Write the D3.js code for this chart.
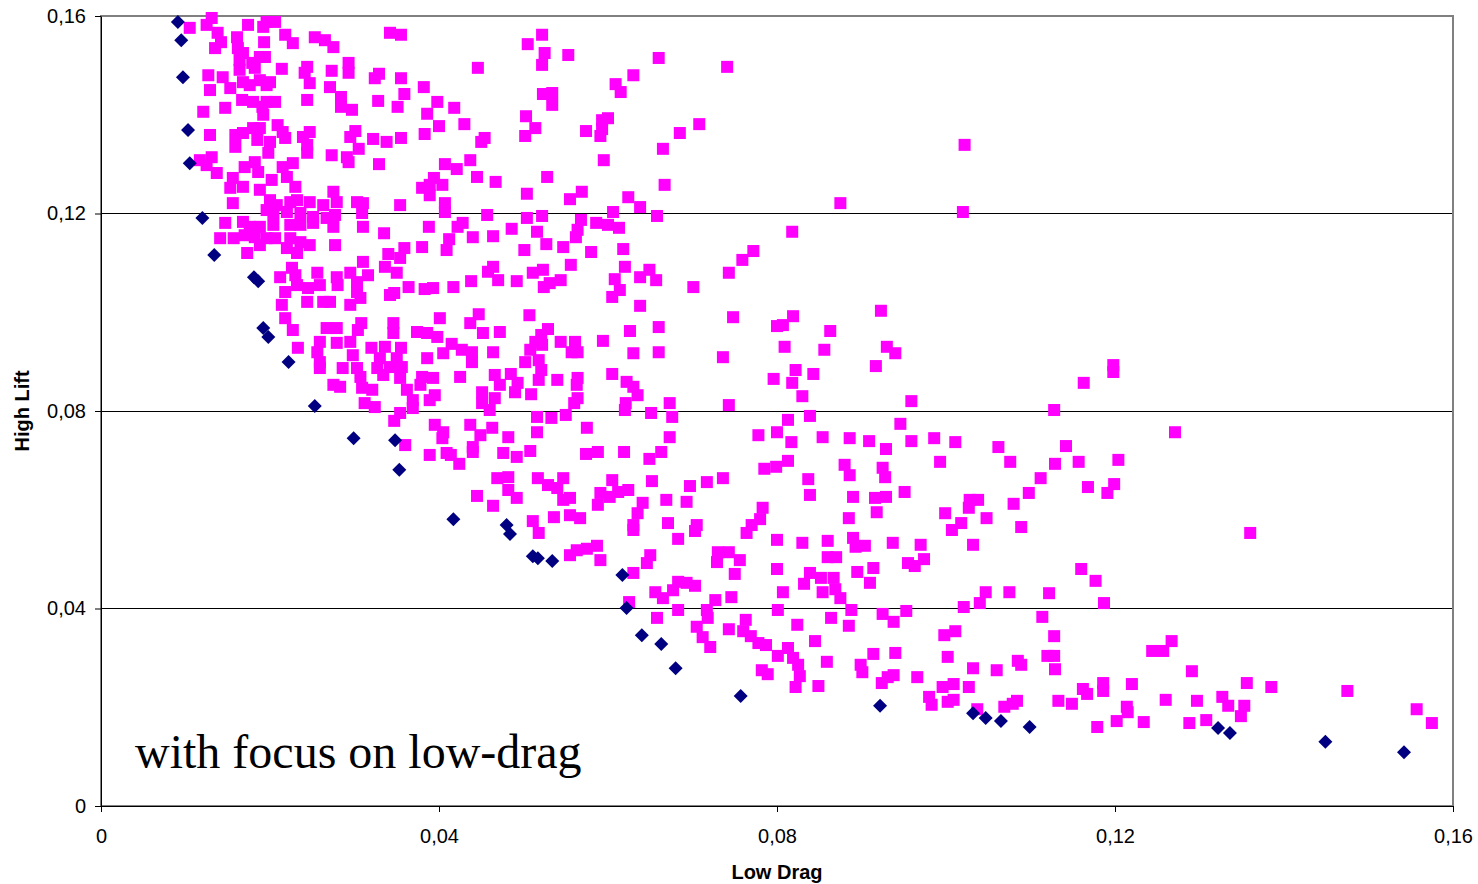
<!DOCTYPE html>
<html>
<head>
<meta charset="utf-8">
<script src="https://cdn.jsdelivr.net/npm/d3@7"></script>
<style>
    body { margin: 0; background: #fff; }
    .tick text { font-family: "Liberation Sans", Arial, sans-serif; font-size: 20px; fill: #000; }
</style>
</head>
<body>
<div class="container"></div>
<script>
const xTicks = [0, 0.04, 0.08, 0.12, 0.16],
    yTicks = [0, 0.04, 0.08, 0.12, 0.16],
    gridTicks = [0.04, 0.08, 0.12];

// non-dominated designs, [drag, lift]
const paretoFront = [
    [0.0091,0.1588],[0.0095,0.1551],[0.0097,0.1476],[0.0103,0.1369],[0.0105,0.1302],[0.0120,0.1191],[0.0134,0.1116],
    [0.0181,0.1071],[0.0186,0.1063],[0.0192,0.0968],[0.0198,0.0950],[0.0222,0.0899],[0.0253,0.0810],[0.0299,0.0745],
    [0.0348,0.0741],[0.0353,0.0681],[0.0417,0.0581],[0.0480,0.0569],[0.0484,0.0551],[0.0511,0.0506],[0.0517,0.0502],
    [0.0534,0.0496],[0.0617,0.0468],[0.0622,0.0401],[0.0640,0.0346],[0.0663,0.0328],[0.0680,0.0279],[0.0757,0.0223],
    [0.0922,0.0203],[0.1032,0.0188],[0.1047,0.0178],[0.1065,0.0172],[0.1099,0.0160],[0.1322,0.0158],[0.1336,0.0148],
    [0.1449,0.0130],[0.1542,0.0109]
];

// all other evaluated designs, [drag, lift]
const designs = [
    [0.0131,0.1596],[0.0105,0.1576],[0.0125,0.1582],[0.0138,0.1566],[0.0142,0.1547],[0.0135,0.1535],[0.0161,0.1557],[0.0174,0.1582],[0.0196,0.1588],[0.0206,0.1588],[0.0192,0.1578],[0.0193,0.1547],[0.0218,0.1562],[0.0227,0.1545],[0.0253,0.1557],[0.0265,0.1551],[0.0275,0.1537],[0.0162,0.1535],[0.0168,0.1525],[0.0164,0.1511],[0.0188,0.1517],[0.0194,0.1517],[0.0179,0.1505],[0.0164,0.1491],[0.0182,0.1495],[0.0214,0.1493],[0.0244,0.1497],[0.0241,0.1485],[0.0273,0.1489],[0.0127,0.1480],[0.0144,0.1476],[0.0129,0.1450],[0.0153,0.1454],[0.0168,0.1466],[0.0176,0.1460],[0.0188,0.1470],[0.0196,0.1460],[0.0200,0.1466],[0.0247,0.1464],[0.0271,0.1456],[0.0167,0.1430],[0.0180,0.1426],[0.0196,0.1426],[0.0206,0.1426],[0.0244,0.1430],[0.0121,0.1406],[0.0147,0.1414],[0.0191,0.1416],[0.0192,0.1400],[0.0129,0.1359],[0.0159,0.1359],[0.0168,0.1363],[0.0180,0.1373],[0.0188,0.1373],[0.0209,0.1379],[0.0215,0.1365],[0.0159,0.1335],[0.0185,0.1349],[0.0200,0.1345],[0.0218,0.1353],[0.0239,0.1355],[0.0244,0.1339],[0.0247,0.1365],[0.0198,0.1323],[0.0273,0.1318],[0.0244,0.1323],[0.0117,0.1308],[0.0131,0.1314],[0.0125,0.1298],[0.0137,0.1282],[0.0170,0.1294],[0.0182,0.1304],[0.0186,0.1284],[0.0215,0.1294],[0.0227,0.1302],[0.0220,0.1274],[0.0202,0.1268],[0.0156,0.1272],[0.0153,0.1252],[0.0168,0.1254],[0.0188,0.1248],[0.0230,0.1254],[0.0275,0.1244],
    [0.0156,0.1221],[0.0200,0.1227],[0.0208,0.1217],[0.0224,0.1223],[0.0232,0.1227],[0.0247,0.1223],[0.0263,0.1217],[0.0196,0.1207],[0.0204,0.1201],[0.0220,0.1203],[0.0236,0.1201],[0.0251,0.1193],[0.0267,0.1191],[0.0147,0.1181],[0.0168,0.1183],[0.0176,0.1173],[0.0188,0.1173],[0.0204,0.1177],[0.0224,0.1177],[0.0236,0.1177],[0.0251,0.1181],[0.0141,0.1150],[0.0157,0.1150],[0.0170,0.1156],[0.0182,0.1152],[0.0196,0.1150],[0.0206,0.1150],[0.0224,0.1150],[0.0236,0.1142],[0.0247,0.1136],[0.0173,0.1120],[0.0188,0.1136],[0.0220,0.1130],[0.0232,0.1120],[0.0226,0.1090],[0.0212,0.1071],[0.0230,0.1075],[0.0256,0.1080],[0.0232,0.1055],[0.0218,0.1041],[0.0245,0.1049],[0.0259,0.1055],[0.0244,0.1021],[0.0263,0.1021],[0.0214,0.1015],[0.0218,0.0988],[0.0227,0.0964],[0.0267,0.0968],[0.0259,0.0940],[0.0233,0.0928],[0.0256,0.0919],[0.0259,0.0899],[0.0259,0.0887],
    [0.0342,0.1566],[0.0355,0.1562],[0.0293,0.1505],[0.0293,0.1485],[0.0329,0.1483],[0.0324,0.1474],[0.0355,0.1474],[0.0382,0.1456],[0.0446,0.1495],[0.0284,0.1436],[0.0284,0.1416],[0.0297,0.1410],[0.0328,0.1428],[0.0359,0.1442],[0.0351,0.1416],[0.0398,0.1426],[0.0386,0.1402],[0.0418,0.1414],[0.0400,0.1377],[0.0430,0.1381],[0.0301,0.1367],[0.0295,0.1355],[0.0322,0.1351],[0.0338,0.1345],[0.0355,0.1353],[0.0383,0.1361],[0.0450,0.1345],[0.0454,0.1353],[0.0305,0.1331],[0.0291,0.1314],[0.0293,0.1304],[0.0329,0.1300],[0.0407,0.1300],[0.0421,0.1290],[0.0437,0.1308],[0.0445,0.1274],[0.0467,0.1264],[0.0394,0.1272],[0.0380,0.1252],[0.0389,0.1258],[0.0404,0.1258],[0.0389,0.1237],
    [0.0279,0.1223],[0.0303,0.1223],[0.0310,0.1221],[0.0309,0.1201],[0.0354,0.1217],[0.0407,0.1221],[0.0407,0.1203],[0.0457,0.1197],[0.0277,0.1197],[0.0275,0.1173],[0.0310,0.1173],[0.0335,0.1160],[0.0388,0.1173],[0.0422,0.1173],[0.0428,0.1181],[0.0440,0.1152],[0.0464,0.1154],[0.0277,0.1136],[0.0412,0.1148],[0.0409,0.1126],[0.0380,0.1132],[0.0359,0.1130],[0.0340,0.1118],[0.0354,0.1110],[0.0310,0.1102],[0.0336,0.1092],[0.0350,0.1080],[0.0295,0.1080],[0.0316,0.1075],[0.0279,0.1071],[0.0303,0.1061],[0.0280,0.1055],[0.0464,0.1092],[0.0458,0.1082],[0.0470,0.1065],[0.0438,0.1063],[0.0417,0.1051],[0.0393,0.1049],[0.0383,0.1047],[0.0364,0.1051],[0.0347,0.1039],[0.0342,0.1035],[0.0303,0.1041],[0.0307,0.1029],[0.0295,0.1015],[0.0271,0.1021],[0.0401,0.0988],[0.0447,0.0996],[0.0437,0.0978],[0.0308,0.0978],[0.0346,0.0978],[0.0279,0.0968],[0.0304,0.0964],[0.0346,0.0958],[0.0374,0.0960],[0.0386,0.0958],[0.0398,0.0950],[0.0452,0.0958],[0.0472,0.0960],[0.0295,0.0940],[0.0279,0.0938],[0.0320,0.0928],[0.0336,0.0930],[0.0355,0.0928],[0.0415,0.0936],[0.0405,0.0917],[0.0427,0.0924],[0.0439,0.0919],[0.0464,0.0919],[0.0298,0.0913],[0.0386,0.0907],[0.0439,0.0899],[0.0330,0.0907],[0.0350,0.0907],[0.0342,0.0889],[0.0356,0.0889],[0.0327,0.0887],[0.0286,0.0887],[0.0303,0.0887],[0.0307,0.0869],[0.0334,0.0873],[0.0354,0.0867],[0.0380,0.0869],[0.0393,0.0867],[0.0425,0.0869],[0.0466,0.0873],
    [0.0275,0.0853],[0.0283,0.0849],[0.0309,0.0847],[0.0321,0.0843],[0.0312,0.0816],[0.0324,0.0808],[0.0362,0.0843],[0.0369,0.0822],[0.0369,0.0806],[0.0354,0.0796],[0.0347,0.0780],[0.0378,0.0853],[0.0395,0.0832],[0.0389,0.0822],[0.0451,0.0838],[0.0451,0.0816],[0.0466,0.0826],[0.0460,0.0802],[0.0472,0.0853],[0.0395,0.0772],[0.0405,0.0757],[0.0404,0.0745],[0.0437,0.0772],[0.0463,0.0766],[0.0449,0.0751],[0.0360,0.0731],[0.0389,0.0711],[0.0409,0.0715],[0.0414,0.0711],[0.0424,0.0693],[0.0440,0.0727],[0.0440,0.0717],[0.0476,0.0715],[0.0482,0.0747],[0.0469,0.0664],[0.0482,0.0666],[0.0482,0.0640],[0.0445,0.0628],[0.0464,0.0608],
    [0.0522,0.1562],[0.0505,0.1543],[0.0525,0.1525],[0.0522,0.1501],[0.0553,0.1521],[0.0660,0.1515],[0.0630,0.1480],[0.0609,0.1462],[0.0615,0.1446],[0.0523,0.1442],[0.0534,0.1444],[0.0534,0.1420],[0.0503,0.1397],[0.0514,0.1373],[0.0502,0.1357],[0.0574,0.1367],[0.0593,0.1389],[0.0600,0.1393],[0.0593,0.1371],[0.0591,0.1357],[0.0595,0.1308],[0.0685,0.1363],[0.0708,0.1381],[0.0665,0.1331],[0.0528,0.1274],[0.0504,0.1240],[0.0555,0.1229],[0.0569,0.1244],[0.0624,0.1233],[0.0638,0.1213],[0.0667,0.1258],[0.0606,0.1203],[0.0658,0.1195],[0.0504,0.1191],[0.0522,0.1195],[0.0568,0.1187],[0.0586,0.1181],[0.0600,0.1177],[0.0613,0.1171],[0.0564,0.1167],[0.0562,0.1152],[0.0486,0.1169],[0.0516,0.1163],[0.0527,0.1138],[0.0547,0.1132],[0.0501,0.1126],[0.0618,0.1128],[0.0580,0.1122],
    [0.0556,0.1096],[0.0620,0.1092],[0.0511,0.1080],[0.0523,0.1086],[0.0638,0.1071],[0.0649,0.1086],[0.0657,0.1065],[0.0608,0.1067],[0.0614,0.1045],[0.0605,0.1031],[0.0701,0.1051],[0.0492,0.1063],[0.0524,0.1051],[0.0531,0.1059],[0.0544,0.1065],[0.0638,0.1013],[0.0507,0.0994],[0.0660,0.0970],[0.0626,0.0962],[0.0529,0.0966],[0.0521,0.0954],[0.0514,0.0940],[0.0522,0.0934],[0.0544,0.0940],[0.0561,0.0940],[0.0594,0.0942],[0.0508,0.0924],[0.0557,0.0919],[0.0564,0.0919],[0.0660,0.0919],[0.0630,0.0917],[0.0518,0.0903],[0.0502,0.0899],[0.0521,0.0883],[0.0485,0.0875],[0.0605,0.0875],[0.0518,0.0863],[0.0540,0.0863],[0.0564,0.0867],[0.0563,0.0853],[0.0622,0.0859],[0.0630,0.0849],[0.0493,0.0857],[0.0490,0.0838],[0.0509,0.0834],[0.0635,0.0832],[0.0564,0.0826],[0.0560,0.0816],[0.0621,0.0816],[0.0620,0.0802],[0.0673,0.0816],[0.0651,0.0796],[0.0676,0.0788],[0.0550,0.0792],[0.0533,0.0786],[0.0516,0.0788],[0.0516,0.0757],[0.0575,0.0766],[0.0673,0.0747],[0.0508,0.0719],[0.0492,0.0707],[0.0574,0.0713],[0.0588,0.0717],[0.0619,0.0717],[0.0663,0.0717],[0.0649,0.0703],
    [0.0492,0.0624],[0.0517,0.0664],[0.0529,0.0650],[0.0540,0.0644],[0.0547,0.0664],[0.0547,0.0620],[0.0555,0.0624],[0.0605,0.0660],[0.0591,0.0634],[0.0588,0.0610],[0.0602,0.0626],[0.0612,0.0636],[0.0624,0.0640],[0.0652,0.0658],[0.0641,0.0614],[0.0635,0.0593],[0.0630,0.0569],[0.0630,0.0559],[0.0697,0.0648],[0.0717,0.0656],[0.0669,0.0620],[0.0693,0.0616],[0.0536,0.0585],[0.0555,0.0589],[0.0567,0.0583],[0.0511,0.0577],[0.0518,0.0553],[0.0671,0.0573],[0.0705,0.0569],[0.0703,0.0557],[0.0683,0.0541],[0.0555,0.0508],[0.0563,0.0518],[0.0575,0.0521],[0.0587,0.0527],[0.0591,0.0498],[0.0650,0.0508],[0.0646,0.0492],[0.0630,0.0472],[0.0656,0.0433],[0.0665,0.0421],[0.0677,0.0437],[0.0683,0.0454],[0.0693,0.0452],[0.0703,0.0446],[0.0625,0.0413],[0.0658,0.0381],[0.0683,0.0397],[0.0727,0.0417],[0.0717,0.0397],[0.0718,0.0381],[0.0705,0.0363],[0.0712,0.0342],[0.0721,0.0322],[0.0729,0.0494],[0.0730,0.0514],
    [0.0875,0.1221],[0.0818,0.1163],[0.0772,0.1124],[0.0759,0.1106],[0.0743,0.1080],[0.0923,0.1003],[0.0748,0.0990],[0.0819,0.0992],[0.0807,0.0974],[0.0800,0.0972],[0.0863,0.0962],[0.0809,0.0930],[0.0856,0.0924],[0.0930,0.0930],[0.0940,0.0917],[0.0736,0.0909],[0.0917,0.0891],[0.0822,0.0883],[0.0843,0.0875],[0.0796,0.0865],[0.0818,0.0857],[0.0830,0.0830],[0.0959,0.0820],[0.0743,0.0812],[0.0813,0.0782],[0.0839,0.0790],[0.0946,0.0774],[0.0778,0.0751],[0.0800,0.0757],[0.0817,0.0737],[0.0854,0.0747],[0.0886,0.0745],[0.0909,0.0739],[0.0929,0.0723],[0.0959,0.0739],[0.0986,0.0745],[0.1011,0.0737],[0.0993,0.0697],[0.0813,0.0699],[0.0799,0.0687],[0.0785,0.0683],[0.0880,0.0691],[0.0886,0.0670],[0.0925,0.0685],[0.0928,0.0666],[0.0736,0.0664],[0.0837,0.0662],
    [0.0839,0.0630],[0.0890,0.0626],[0.0916,0.0624],[0.0929,0.0626],[0.0951,0.0636],[0.0885,0.0583],[0.0918,0.0595],[0.0999,0.0593],[0.1028,0.0620],[0.1038,0.0620],[0.1027,0.0604],[0.1018,0.0573],[0.1007,0.0559],[0.1048,0.0583],[0.0783,0.0604],[0.0780,0.0581],[0.0770,0.0569],[0.0764,0.0553],[0.0800,0.0539],[0.0830,0.0533],[0.0860,0.0537],[0.0890,0.0543],[0.0893,0.0525],[0.0904,0.0527],[0.0937,0.0533],[0.0970,0.0529],[0.1032,0.0529],[0.0743,0.0514],[0.0756,0.0498],[0.0750,0.0470],[0.0800,0.0480],[0.0860,0.0504],[0.0870,0.0504],[0.0895,0.0474],[0.0914,0.0482],[0.0955,0.0492],[0.0963,0.0486],[0.0974,0.0500],[0.0839,0.0472],[0.0832,0.0450],[0.0852,0.0462],[0.0867,0.0462],[0.0854,0.0433],[0.0869,0.0439],[0.0875,0.0421],[0.0910,0.0452],[0.0807,0.0433],[0.0746,0.0423],[0.0801,0.0397],[0.0888,0.0397],[0.0925,0.0389],[0.0938,0.0373],[0.0953,0.0395],[0.1021,0.0403],[0.1040,0.0411],[0.1047,0.0433],[0.0763,0.0377],[0.0743,0.0358],[0.0760,0.0354],[0.0769,0.0344],[0.0778,0.0330],[0.0787,0.0326],[0.0824,0.0367],[0.0864,0.0381],[0.0885,0.0365],[0.0845,0.0334],[0.0813,0.0320],[0.0801,0.0304],[0.0819,0.0300],[0.0825,0.0286],[0.0827,0.0263],[0.0822,0.0241],[0.0859,0.0292],[0.0849,0.0243],[0.0782,0.0275],[0.0789,0.0267],[0.0914,0.0308],[0.0899,0.0286],[0.0901,0.0271],[0.0940,0.0310],[0.0924,0.0249],[0.0931,0.0261],[0.0938,0.0265],[0.0966,0.0261],[0.0998,0.0346],[0.1011,0.0354],[0.1002,0.0302],[0.1032,0.0279],[0.1027,0.0241],[0.0996,0.0241],[0.1009,0.0247],[0.0980,0.0221],[0.0983,0.0205],[0.1002,0.0211],[0.1009,0.0215],[0.1037,0.0196],[0.1060,0.0275],
    [0.1163,0.0857],[0.1128,0.0802],[0.1271,0.0757],[0.1062,0.0727],[0.1076,0.0697],[0.1142,0.0729],[0.1129,0.0693],[0.1157,0.0697],[0.1204,0.0701],[0.1112,0.0664],[0.1098,0.0634],[0.1168,0.0646],[0.1199,0.0652],[0.1191,0.0634],[0.1080,0.0612],[0.1089,0.0565],[0.1160,0.0480],[0.1177,0.0456],[0.1075,0.0433],[0.1122,0.0431],[0.1187,0.0411],[0.1114,0.0383],[0.1128,0.0344],[0.1085,0.0294],[0.1089,0.0286],[0.1120,0.0304],[0.1128,0.0304],[0.1129,0.0277],[0.1244,0.0314],[0.1257,0.0314],[0.1267,0.0334],[0.1069,0.0201],[0.1079,0.0207],[0.1084,0.0213],[0.1133,0.0213],[0.1149,0.0207],[0.1162,0.0237],[0.1167,0.0227],[0.1186,0.0249],[0.1186,0.0233],[0.1220,0.0247],[0.1214,0.0201],[0.1215,0.0190],[0.1202,0.0172],[0.1234,0.0170],[0.1179,0.0160],[0.1260,0.0215],
    [0.1360,0.0553],[0.1291,0.0273],[0.1356,0.0249],[0.1385,0.0241],[0.1297,0.0213],[0.1327,0.0221],[0.1334,0.0203],[0.1353,0.0203],[0.1349,0.0182],[0.1288,0.0168],[0.1308,0.0174],[0.1475,0.0233],[0.1557,0.0196],[0.1575,0.0168],
    [0.0741,0.1497],[0.1022,0.1339],[0.1020,0.1203],[0.1198,0.0893],[0.1198,0.0879]
];

const margin = {top: 16, right: 25, bottom: 78, left: 101};
const width = 1478 - margin.left - margin.right,
    height = 884 - margin.top - margin.bottom;

const svg = d3.select('.container')
    .append('svg')
    .attr('width', 1478)
    .attr('height', 884);

const g = svg.append('g')
    .attr('transform', `translate(${margin.left},${margin.top})`);

const xScale = d3.scaleLinear().domain([0, 0.16]).range([0, width]);
const yScale = d3.scaleLinear().domain([0, 0.16]).range([height, 0]);

const comma = d3.formatLocale({decimal: ',', thousands: '.', grouping: [3], currency: ['', '']}).format('.2~f');

// grid
g.selectAll('.grid')
    .data(gridTicks)
    .enter().append('line')
    .attr('x1', 0).attr('x2', width)
    .attr('y1', d => yScale(d)).attr('y2', d => yScale(d))
    .attr('stroke', '#000')
    .attr('stroke-width', 1)
    .attr('shape-rendering', 'crispEdges');

// plot frame
g.append('rect')
    .attr('x', 0).attr('y', 0)
    .attr('width', width).attr('height', height)
    .attr('fill', 'none')
    .attr('stroke', '#808080')
    .attr('stroke-width', 2);

const xAxis = d3.axisBottom(xScale).tickValues(xTicks).tickFormat(comma).tickSizeInner(6).tickSizeOuter(0).tickPadding(17);
const yAxis = d3.axisLeft(yScale).tickValues(yTicks).tickFormat(comma).tickSizeInner(6).tickSizeOuter(0).tickPadding(9);

g.append('g')
    .attr('transform', `translate(0,${height})`)
    .call(xAxis)
    .call(a => a.select('.domain').attr('stroke', '#000'));

g.append('g')
    .call(yAxis)
    .call(a => a.select('.domain').attr('stroke', '#000'));

// markers
const sq = 12;
g.selectAll('.design')
    .data(designs)
    .enter().append('rect')
    .attr('class', 'design')
    .attr('x', d => xScale(d[0]) - sq / 2)
    .attr('y', d => yScale(d[1]) - sq / 2)
    .attr('width', sq)
    .attr('height', sq)
    .attr('fill', '#ff00ff');

g.selectAll('.pareto')
    .data(paretoFront)
    .enter().append('path')
    .attr('class', 'pareto')
    .attr('d', 'M0,-7L7,0L0,7L-7,0Z')
    .attr('transform', d => `translate(${xScale(d[0])},${yScale(d[1])})`)
    .attr('fill', '#000080');

// titles
svg.append('text')
    .attr('x', margin.left + width / 2)
    .attr('y', 879)
    .attr('text-anchor', 'middle')
    .attr('font-family', '"Liberation Sans", Arial, sans-serif')
    .attr('font-size', 20)
    .attr('font-weight', 'bold')
    .text('Low Drag');

svg.append('text')
    .attr('transform', `translate(29,${margin.top + height / 2}) rotate(-90)`)
    .attr('text-anchor', 'middle')
    .attr('font-family', '"Liberation Sans", Arial, sans-serif')
    .attr('font-size', 20)
    .attr('font-weight', 'bold')
    .text('High Lift');

svg.append('text')
    .attr('x', 135)
    .attr('y', 768)
    .attr('font-family', '"Liberation Serif", "Times New Roman", serif')
    .attr('font-size', 48)
    .text('with focus on low-drag');
</script>
</body>
</html>
